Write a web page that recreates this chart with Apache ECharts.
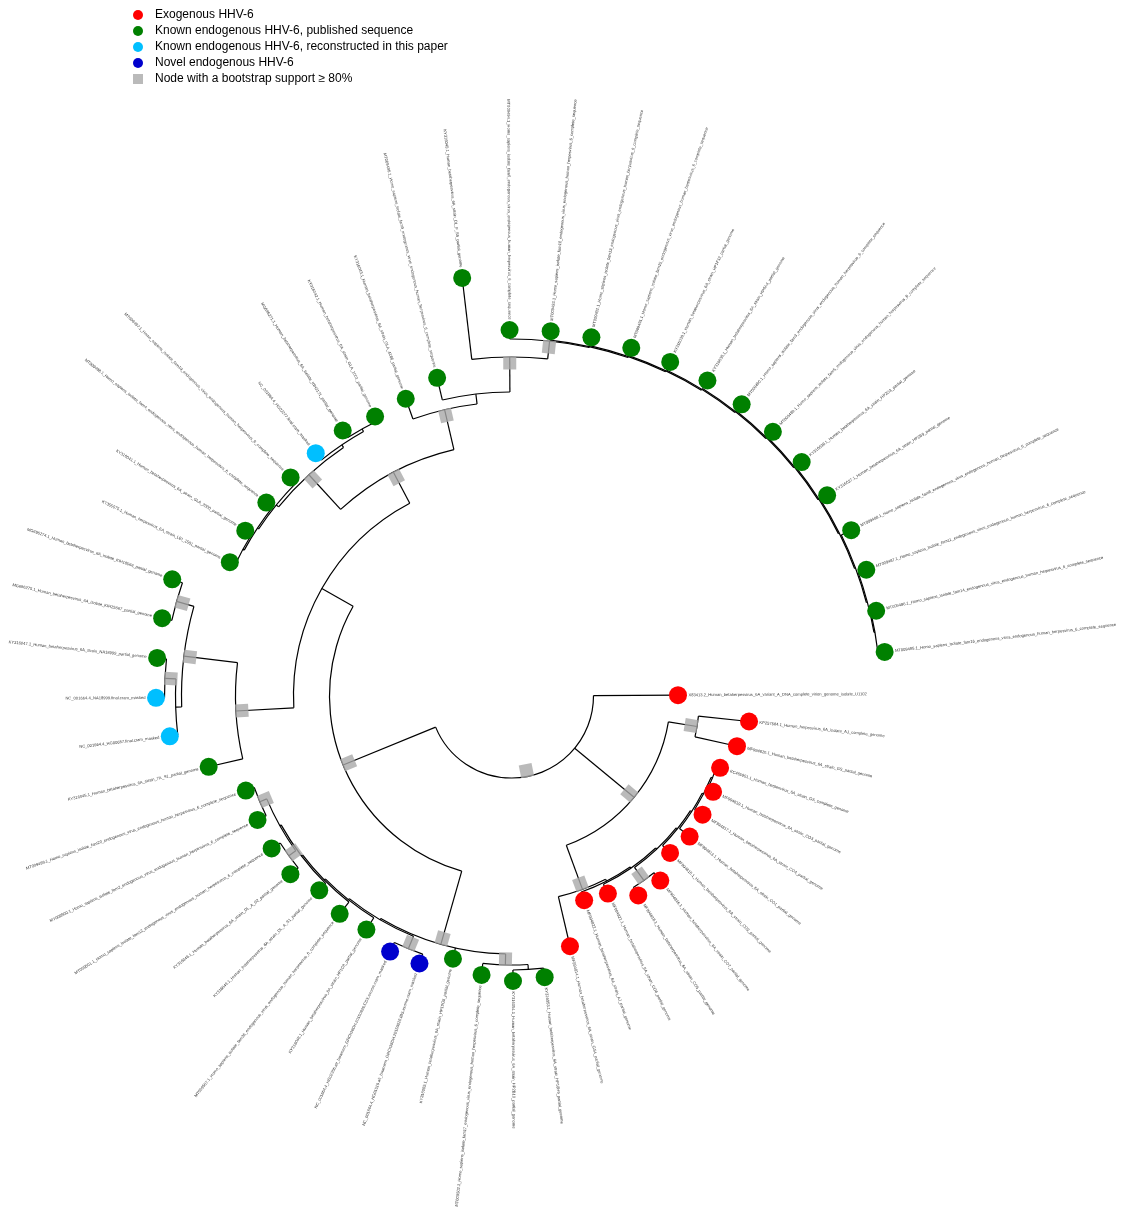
<!DOCTYPE html>
<html>
<head>
<meta charset="utf-8">
<script src="https://cdn.jsdelivr.net/npm/echarts@6/dist/echarts.min.js"></script>
<style>
html, body { margin: 0; padding: 0; background: #fff; }
#chart { width: 1133px; height: 1209px; }
</style>
</head>
<body>
<div id="chart"></div>
<script>
// Leaf labels, in clockwise order around the circle (index = leaf id used in the Newick strings)
const tipLabels = [
  "X83413.2_Human_betaherpesvirus_6A_variant_A_DNA_complete_virion_genome_isolate_U1102",
  "KP257584.1_Human_herpesvirus_6A_isolate_AJ_complete_genome",
  "MF994820.1_Human_betaherpesvirus_6A_strain_GS_partial_genome",
  "KC465951.1_Human_herpesvirus_6A_strain_GS_complete_genome",
  "MF994819.1_Human_betaherpesvirus_6A_strain_CO3_partial_genome",
  "MF994817.1_Human_betaherpesvirus_6A_strain_CO4_partial_genome",
  "MF994813.1_Human_betaherpesvirus_6A_strain_CO1_partial_genome",
  "MF994815.1_Human_betaherpesvirus_6A_strain_CO2_partial_genome",
  "MF994816.1_Human_betaherpesvirus_6A_strain_CO7_partial_genome",
  "MF994818.1_Human_betaherpesvirus_6A_strain_CO5_partial_genome",
  "MF994821.1_Human_betaherpesvirus_6A_strain_CO6_partial_genome",
  "MF994822.1_Human_betaherpesvirus_6A_strain_AJ_partial_genome",
  "MF994814.1_Human_betaherpesvirus_6A_strain_GS4_partial_genome",
  "KY316053.1_Human_betaherpesvirus_6A_strain_HP18H9_partial_genome",
  "KY316054.1_Human_betaherpesvirus_6A_strain_HP2B10_partial_genome",
  "MT009502.1_Homo_sapiens_isolate_fam17_endogenous_virus_endogenous_human_herpesvirus_6_complete_sequence",
  "KY316055.1_Human_betaherpesvirus_6A_strain_HP19G5_partial_genome",
  "NC_001664.4_HG01519.alt_bwamem_GRCh38DH.20150826.IBS.exome.cram_masked",
  "NC_001664.4_HG02356.alt_bwamem_GRCh38DH.20150826.CDX.exome.cram_masked",
  "KY316048.1_Human_betaherpesvirus_6A_strain_HP1C8_partial_genome",
  "MT009507.1_Homo_sapiens_isolate_fam36_endogenous_virus_endogenous_human_herpesvirus_6_complete_sequence",
  "KY316049.1_Human_betaherpesvirus_6A_strain_DL_A_S1_partial_genome",
  "KY316046.1_Human_betaherpesvirus_6A_strain_DL_A_S2_partial_genome",
  "MT009501.1_Homo_sapiens_isolate_fam12_endogenous_virus_endogenous_human_herpesvirus_6_complete_sequence",
  "MT009500.1_Homo_sapiens_isolate_fam2_endogenous_virus_endogenous_human_herpesvirus_6_complete_sequence",
  "MT009499.1_Homo_sapiens_isolate_fam20_endogenous_virus_endogenous_human_herpesvirus_6_complete_sequence",
  "KY316045.1_Human_betaherpesvirus_6A_strain_7A_S1_partial_genome",
  "NC_001664.4_HG00657.final.cram_masked",
  "NC_001664.4_NA18999.final.cram_masked",
  "KY316047.1_Human_betaherpesvirus_6A_strain_NA18999_partial_genome",
  "MG696275.1_Human_betaherpesvirus_6A_isolate_KIH25667_partial_genome",
  "MG696274.1_Human_betaherpesvirus_6A_isolate_KIH18566_partial_genome",
  "KT355575.1_Human_herpesvirus_6A_strain_LEI_1501_partial_genome",
  "KY316041.1_Human_betaherpesvirus_6A_strain_GLA_2000_partial_genome",
  "MT009498.1_Homo_sapiens_isolate_fam4_endogenous_virus_endogenous_human_herpesvirus_6_complete_sequence",
  "MT009497.1_Homo_sapiens_isolate_fam19_endogenous_virus_endogenous_human_herpesvirus_6_complete_sequence",
  "NC_001664.4_HG02277.final.cram_masked",
  "MG696271.1_Human_betaherpesvirus_6A_isolate_KIH2171_partial_genome",
  "KY316042.1_Human_betaherpesvirus_6A_strain_GLA_1001_partial_genome",
  "KY316043.1_Human_betaherpesvirus_6A_strain_GLA_4166_partial_genome",
  "MT009496.1_Homo_sapiens_isolate_fam9_endogenous_virus_endogenous_human_herpesvirus_6_complete_sequence",
  "KY316040.1_Human_betaherpesvirus_6A_strain_DL_F_S5_partial_genome",
  "MT009494.1_Homo_sapiens_isolate_fam6_endogenous_virus_endogenous_human_herpesvirus_6_complete_sequence",
  "MT009493.1_Homo_sapiens_isolate_fam10_endogenous_virus_endogenous_human_herpesvirus_6_complete_sequence",
  "MT009492.1_Homo_sapiens_isolate_fam13_endogenous_virus_endogenous_human_herpesvirus_6_complete_sequence",
  "MT009491.1_Homo_sapiens_isolate_fam15_endogenous_virus_endogenous_human_herpesvirus_6_complete_sequence",
  "KY316039.1_Human_betaherpesvirus_6A_strain_HP1F12_partial_genome",
  "KY316038.1_Human_betaherpesvirus_6A_strain_HP8A4_partial_genome",
  "MT009490.1_Homo_sapiens_isolate_fam3_endogenous_virus_endogenous_human_herpesvirus_6_complete_sequence",
  "MT009489.1_Homo_sapiens_isolate_fam5_endogenous_virus_endogenous_human_herpesvirus_6_complete_sequence",
  "KY316036.1_Human_betaherpesvirus_6A_strain_HP2G3_partial_genome",
  "KY316037.1_Human_betaherpesvirus_6A_strain_HP2B9_partial_genome",
  "MT009488.1_Homo_sapiens_isolate_fam8_endogenous_virus_endogenous_human_herpesvirus_6_complete_sequence",
  "MT009487.1_Homo_sapiens_isolate_fam11_endogenous_virus_endogenous_human_herpesvirus_6_complete_sequence",
  "MT009486.1_Homo_sapiens_isolate_fam14_endogenous_virus_endogenous_human_herpesvirus_6_complete_sequence",
  "MT009485.1_Homo_sapiens_isolate_fam16_endogenous_virus_endogenous_human_herpesvirus_6_complete_sequence"
];

// Category of each leaf: exo = exogenous, pub = known endogenous (published),
// rec = known endogenous (reconstructed), nov = novel endogenous
const tipGroups = [
  "exo","exo","exo","exo","exo","exo","exo","exo","exo","exo","exo","exo","exo",
  "pub","pub","pub","pub","nov","nov",
  "pub","pub","pub","pub","pub","pub","pub","pub",
  "rec","rec",
  "pub","pub","pub","pub","pub","pub","pub",
  "rec",
  "pub","pub","pub","pub","pub","pub","pub","pub","pub","pub","pub","pub","pub","pub","pub","pub","pub","pub","pub"
];

const groupOrder = ["exo", "pub", "rec", "nov"];
const groupNames = {
  exo: "Exogenous HHV-6",
  pub: "Known endogenous HHV-6, published sequence",
  rec: "Known endogenous HHV-6, reconstructed in this paper",
  nov: "Novel endogenous HHV-6"
};
const groupColors = { exo: "#ff0000", pub: "#008000", rec: "#00bfff", nov: "#0000cd" };
const supportName = "Node with a bootstrap support \u2265 80%";
const supportTag = "80+";   // internal-node label for nodes with bootstrap >= 80%

// Tree topology with branch lengths (Newick), split by clade
const exogenousClade =
  "((1:0.0509,2:0.0430)80+:0.0290," +
  "((((((((3:0.0036,4:0.0062):0.0015,5:0.0094):0.0015,6:0.0129):0.0015,7:0.0106):0.0015," +
  "(8:0.0101,9:0.0093)80+:0.0160):0.0015,10:0.0103):0.0015,11:0.0088):0.0020,12:0.0510)80+:0.0470)80+:0.0770";

const lowerEndoClade =
  "(((13:0.0091,14:0.0110):0.0050,15:0.0115)80+:0.0110,16:0.0112," +
  "((17:0.0099,18:0.0099)80+:0.0135,(19:0.0140,(20:0.0149,(21:0.0093," +
  "((22:0.0100,23:0.0102)80+:0.0085,(24:0.0096,25:0.0090)80+:0.0075):0.0015):0.0015):0.0015):0.0015):0.0015)80+:0.0760";

const sideEndoClade =
  "(26:0.0350,((27:0.0081,(28:0.0085,29:0.0094)80+:0.0110):0.0060," +
  "(30:0.0099,31:0.0108)80+:0.0180)80+:0.0540)80+:0.0580";

const upperEndoClade =
  "(((((32:0.0058,33:0.0074):0.0015,34:0.0078):0.0015,35:0.0078):0.0030," +
  "(36:0.0089,(37:0.0086,38:0.0050):0.0030):0.0030)80+:0.0470," +
  "(39:0.0215,(40:0.0228,(41:0.0820," +
  "(42:0.0090,(43:0.0089,(44:0.0085,(45:0.0082,(46:0.0088,(47:0.0094,(48:0.0086,(49:0.0076," +
  "(50:0.0077,(51:0.0080,(52:0.0110,(53:0.0086,(54:0.0055,55:0.0067)" +
  ":0.0010):0.0010):0.0010):0.0010):0.0010):0.0010):0.0010):0.0010):0.0010):0.0010):0.0010):0.0010)80+:0.0180" +
  ")80+:0.0350):0.0100)80+:0.0410)80+:0.0350";

const treeNewick =
  "(0:0.0845," + exogenousClade + ",(" + lowerEndoClade + ",(" + sideEndoClade + "," +
  upperEndoClade + "):0.0360)80+:0.1000)80+:0.0820;";

// ---- Newick parsing and circular layout ----
function parseNewick(s) {
  let i = 0;
  function node() {
    const n = { children: [], label: "", length: 0 };
    if (s[i] === "(") {
      i++;
      n.children.push(node());
      while (s[i] === ",") { i++; n.children.push(node()); }
      i++; // closing parenthesis
    }
    let lab = "";
    while (i < s.length && ",():;".indexOf(s[i]) < 0) lab += s[i++];
    n.label = lab.trim();
    if (s[i] === ":") {
      i++;
      let num = "";
      while (i < s.length && ",();".indexOf(s[i]) < 0) num += s[i++];
      n.length = parseFloat(num);
    }
    return n;
  }
  return node();
}

const root = parseNewick(treeNewick);
const step = 360 / tipLabels.length;

(function layout(n, parentDepth) {
  n.parentDepth = parentDepth;
  n.depth = parentDepth + n.length;
  if (!n.children.length) {
    n.tip = parseInt(n.label, 10);
    n.angle = n.tip * step;
  } else {
    n.children.forEach(c => layout(c, n.depth));
    n.angle = (n.children[0].angle + n.children[n.children.length - 1].angle) / 2;
  }
})(root, 0);

const allNodes = [];
(function walk(n, isRoot) {
  n.isRoot = isRoot;
  allNodes.push(n);
  n.children.forEach(c => walk(c, false));
})(root, true);

// [depth, angle, parentDepth(-1 for root), firstChildAngle, lastChildAngle]
const branchData = allNodes.map(n => [
  n.depth, n.angle, n.isRoot ? -1 : n.parentDepth,
  n.children.length ? n.children[0].angle : n.angle,
  n.children.length ? n.children[n.children.length - 1].angle : n.angle
]);
const tips = allNodes.filter(n => !n.children.length).sort((a, b) => a.tip - b.tip);
const labelData = tips.map(n => [n.depth, n.angle, n.tip]);
const supportData = allNodes
  .filter(n => n.children.length && n.label === supportTag)
  .map(n => ({ value: [n.depth - 0.006, n.angle], symbolRotate: -(n.angle - 0.3) }));

const LINE = { stroke: "#000", lineWidth: 1.2, fill: null };

const series = [
  {
    type: "custom",
    name: "branches",
    coordinateSystem: "polar",
    silent: true,
    z: 1,
    data: branchData,
    renderItem: function (params, api) {
      const d = api.value(0), a = api.value(1), pd = api.value(2);
      const a1 = api.value(3), a2 = api.value(4);
      const c = api.coord([0, 0]);
      const kids = [];
      if (pd >= 0) {
        const p0 = api.coord([pd, a]), p1 = api.coord([d, a]);
        kids.push({ type: "line", shape: { x1: p0[0], y1: p0[1], x2: p1[0], y2: p1[1] }, style: LINE });
      }
      if (a2 > a1) {
        const q1 = api.coord([d, a1]), q2 = api.coord([d, a2]);
        const r = Math.hypot(q1[0] - c[0], q1[1] - c[1]);
        kids.push({
          type: "arc",
          shape: {
            cx: c[0], cy: c[1], r: r,
            startAngle: Math.atan2(q1[1] - c[1], q1[0] - c[0]),
            endAngle: Math.atan2(q2[1] - c[1], q2[0] - c[0]),
            clockwise: true
          },
          style: LINE
        });
      }
      return { type: "group", children: kids };
    }
  },
  {
    type: "custom",
    name: "labels",
    coordinateSystem: "polar",
    silent: true,
    z: 2,
    data: labelData,
    renderItem: function (params, api) {
      const d = api.value(0), a = api.value(1), idx = api.value(2);
      const c = api.coord([0, 0]);
      const p = api.coord([d + 0.0105, a]);
      const phi = Math.atan2(p[1] - c[1], p[0] - c[0]);
      const right = Math.cos(phi) >= 0;
      return {
        type: "text",
        x: p[0], y: p[1],
        rotation: right ? -phi : Math.PI - phi,
        style: {
          text: tipLabels[idx],
          fontSize: 4.1,
          fontFamily: "Liberation Sans, Arial, sans-serif",
          fill: "#3a3a3a",
          align: right ? "left" : "right",
          verticalAlign: "middle"
        }
      };
    }
  },
  {
    type: "scatter",
    name: supportName,
    coordinateSystem: "polar",
    symbol: "rect",
    symbolSize: 13,
    itemStyle: { color: "#a9a9a9" },
    z: 3,
    silent: true,
    data: supportData
  }
];

groupOrder.forEach(g => {
  series.push({
    type: "scatter",
    name: groupNames[g],
    coordinateSystem: "polar",
    symbol: "circle",
    symbolSize: 18,
    itemStyle: { color: groupColors[g], opacity: 1 },
    z: 4,
    silent: true,
    data: tips.filter(n => tipGroups[n.tip] === g).map(n => [n.depth, n.angle])
  });
});

const chart = echarts.init(document.getElementById("chart"), null, { renderer: "canvas" });
chart.setOption({
  animation: false,
  backgroundColor: "#ffffff",
  polar: { center: [511.5, 696], radius: 500 },
  radiusAxis: { type: "value", min: 0, max: 0.5, show: false },
  angleAxis: { type: "value", min: 0, max: 360, startAngle: 0.3, clockwise: true, show: false },
  legend: {
    orient: "vertical",
    left: 128,
    top: 4,
    itemWidth: 10,
    itemHeight: 10,
    itemGap: 4,
    selectedMode: false,
    data: groupOrder.map(g => ({ name: groupNames[g], icon: "circle" })).concat([{ name: supportName, icon: "rect" }]),
    textStyle: { fontSize: 12, lineHeight: 12, fontFamily: "Liberation Sans, Arial, sans-serif", color: "#000", padding: [0, 0, 0, 7] }
  },
  series: series
});
</script>
</body>
</html>
